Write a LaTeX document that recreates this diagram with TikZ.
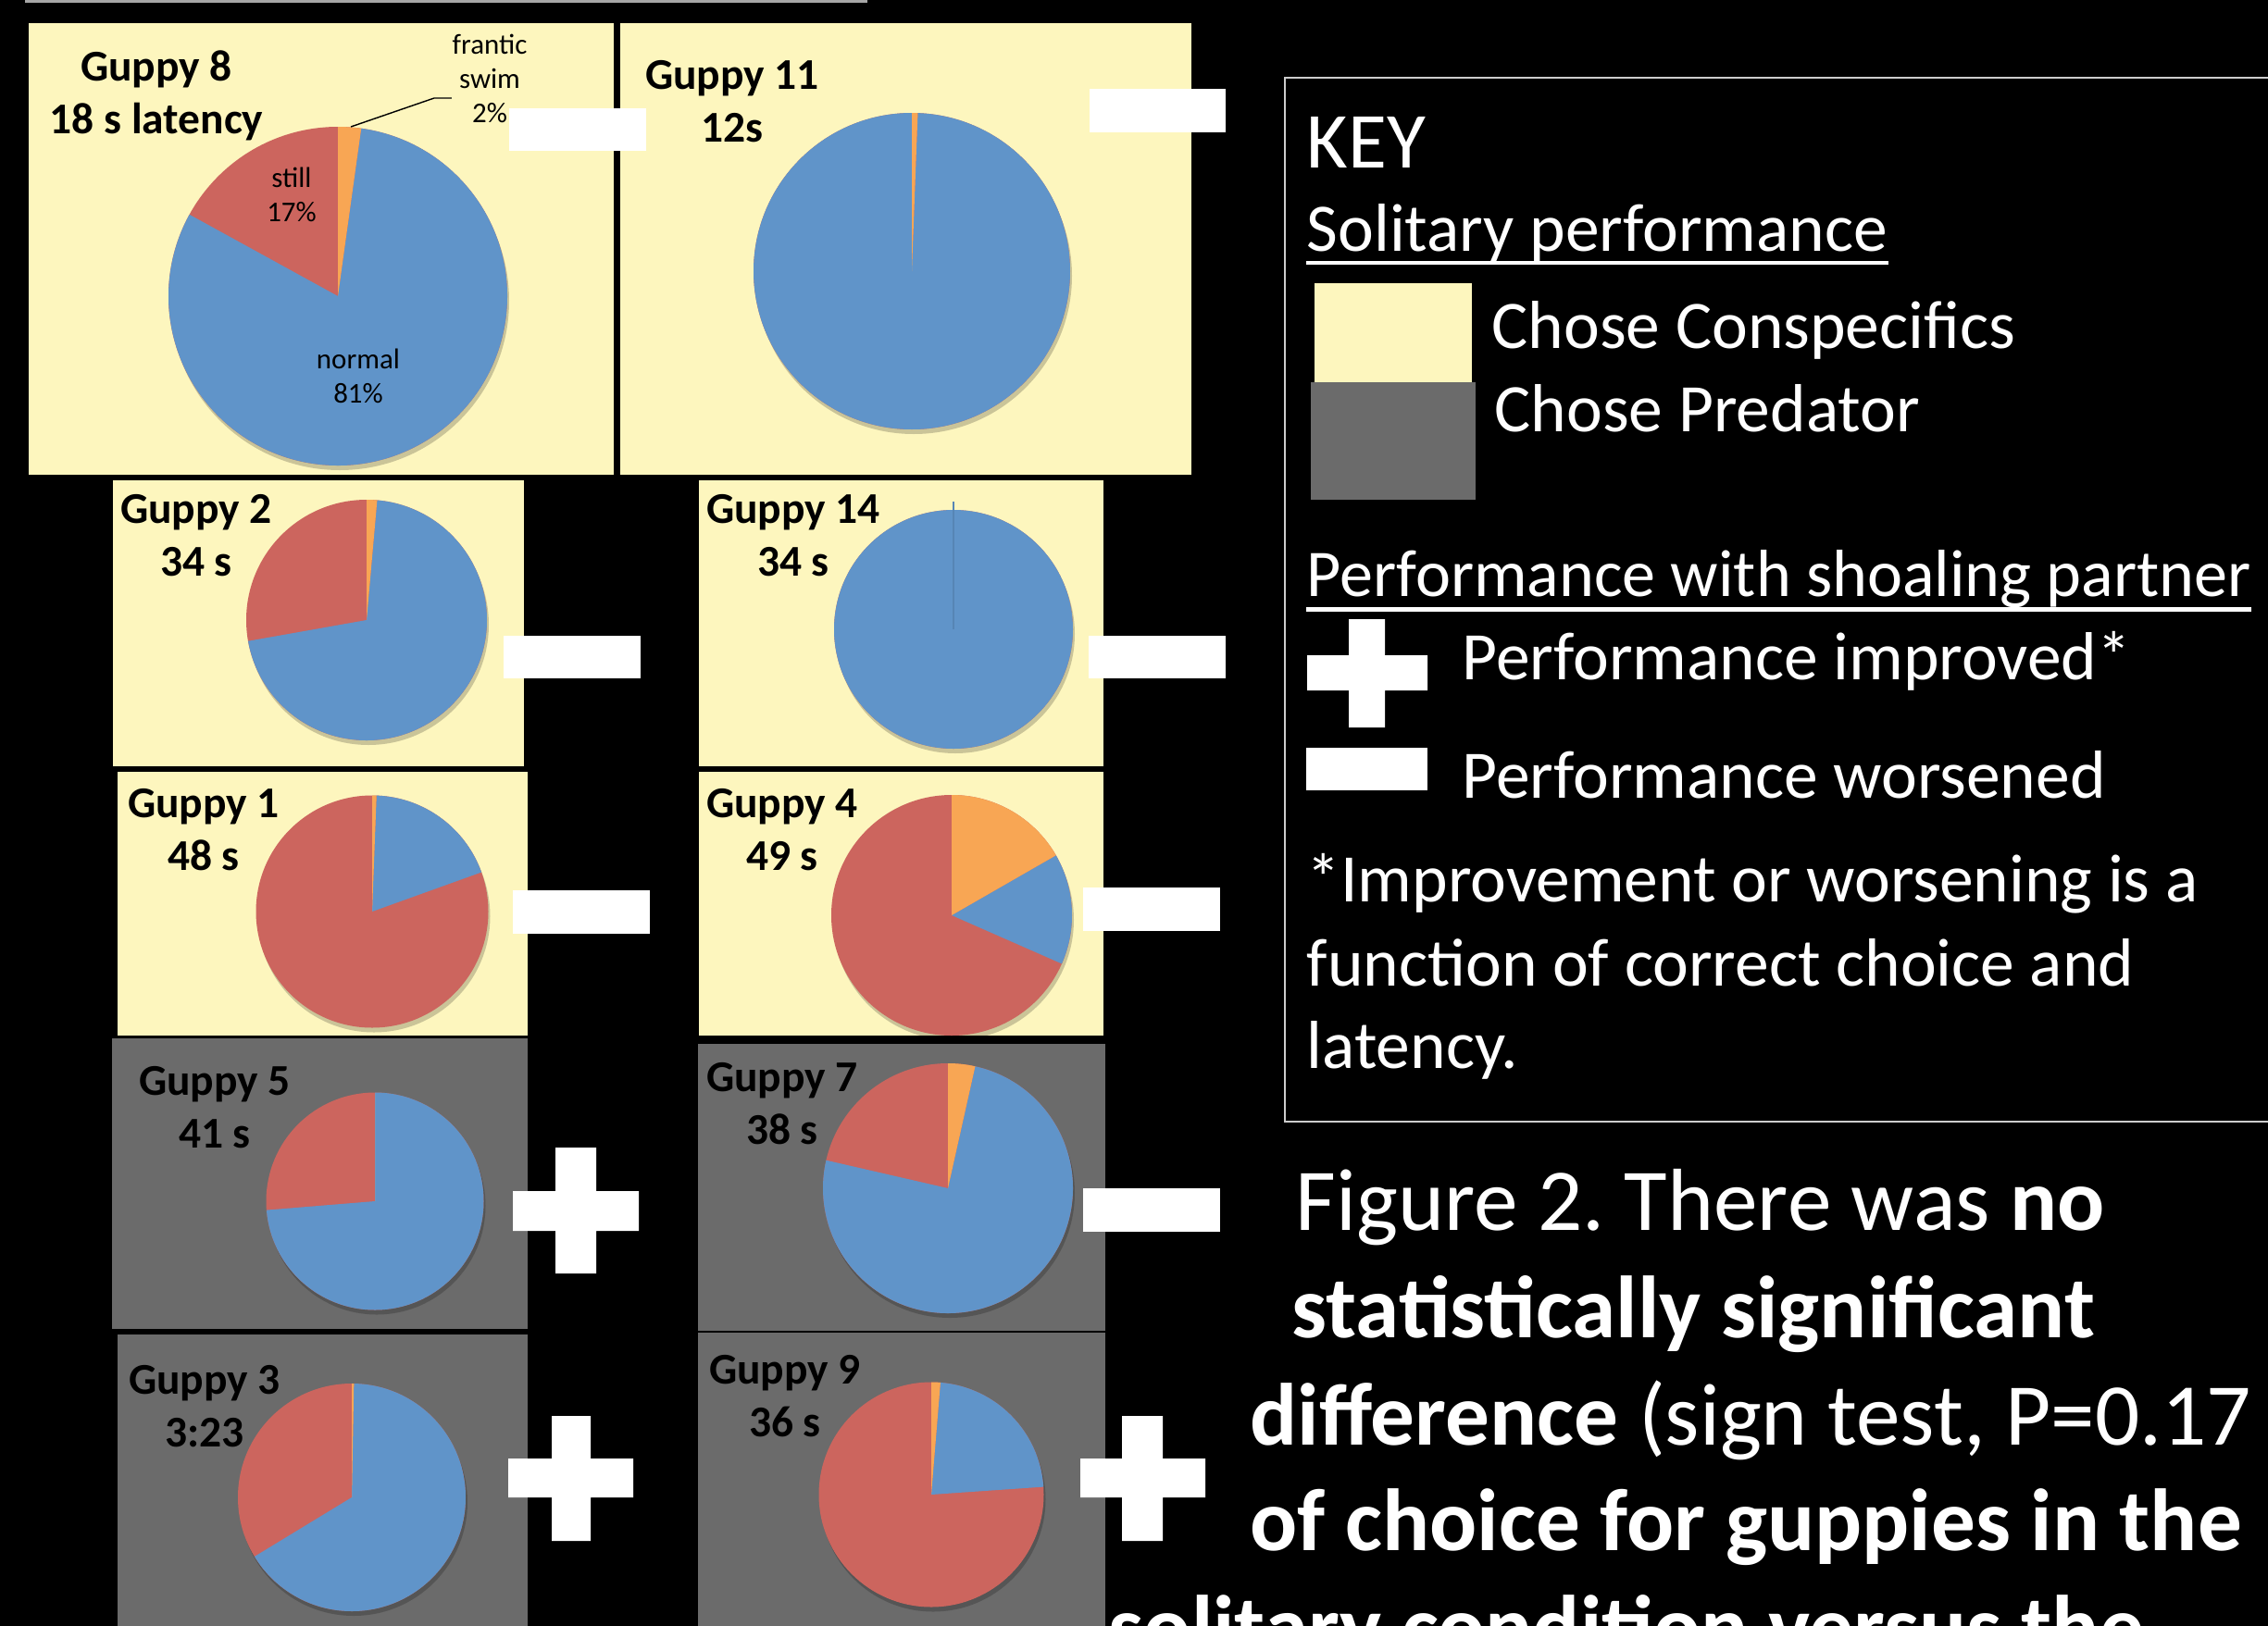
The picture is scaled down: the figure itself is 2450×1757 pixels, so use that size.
\documentclass[tikz,border=0pt]{standalone}
\usepackage{fontspec}
\setmainfont{Carlito}
\frenchspacing
\usetikzlibrary{positioning,calc}
\definecolor{conspec}{RGB}{253,246,190}
\definecolor{predator}{RGB}{107,107,107}
\definecolor{normalblue}{RGB}{96,148,201}
\definecolor{stillred}{RGB}{204,101,94}
\definecolor{franticorange}{RGB}{248,166,84}
\tikzstyle{guppy}=[font=\fontsize{13.5}{16}\selectfont\bfseries, align=center, anchor=base, inner sep=0pt]
\tikzstyle{slice}=[font=\fontsize{8.8}{10.5}\selectfont, align=center, anchor=base, inner sep=0pt]
\tikzstyle{keytext}=[text=white, font=\fontsize{20.9}{25}\selectfont, anchor=base west, inner sep=0pt]
\tikzstyle{figtext}=[text=white, font=\fontsize{27.1}{32}\selectfont, anchor=base west, inner sep=0pt]
\tikzstyle{worse}=[fill=white]
\tikzstyle{pieshadow}=[fill=black, opacity=.2]
\newcommand{\guppypie}[5]{% x, y, radius, frantic %, normal %
  \begin{scope}[shift={(#1,#2)}]
    \fill[pieshadow] (2,5) circle (#3);
    \fill[stillred] (0,0) circle (#3);
    \fill[normalblue] (0,0) -- ({-90+3.6*#4}:#3) arc[start angle={-90+3.6*#4}, delta angle={3.6*#5}, radius=#3] -- cycle;
    \fill[franticorange] (0,0) -- (-90:#3) arc[start angle=-90, delta angle={3.6*#4}, radius=#3] -- cycle;
  \end{scope}}

\begin{document}
\begin{tikzpicture}[x=0.01cm, y=-0.01cm]
        \useasboundingbox (0,0) rectangle (2450,1757);
        \clip (0,0) rectangle (2450,1757);
        \fill[black] (0,0) rectangle (2450,1757);
        \draw[gray!70, line width=0.6pt] (27,1.5) -- (937,1.5);

        % Chose conspecifics
        \fill[conspec] (31,25) rectangle (663,513);
        \fill[conspec] (670,25) rectangle (1287,513);
        \fill[conspec] (122,519) rectangle (566,828);
        \fill[conspec] (755,519) rectangle (1192,828);
        \fill[conspec] (127,834) rectangle (570,1119);
        \fill[conspec] (755,834) rectangle (1192,1119);

        % Chose predator
        \fill[predator] (121,1122) rectangle (570,1436);
        \fill[predator] (754,1128) rectangle (1194,1438);
        \fill[predator] (127,1442) rectangle (570,1757);
        \fill[predator] (754,1440) rectangle (1194,1757);

        % Pies
        \guppypie{365}{320}{183}{2.2}{80.8}
        \guppypie{985}{293}{171}{0.6}{99.4}
        \guppypie{396}{670}{130}{1.4}{70.8}
        \guppypie{1030}{680}{129}{0}{100}
        \guppypie{402}{985}{125.5}{0.6}{18.9}
        \guppypie{1028}{989}{130}{16.7}{14.9}
        \guppypie{405}{1298}{117.5}{0}{73.7}
        \guppypie{1024}{1284}{135}{3.5}{75.1}
        \guppypie{380}{1618}{123}{0.3}{66}
        \guppypie{1006}{1615}{121.5}{1.3}{22.6}
        \draw[normalblue!90!black, line width=0.4pt] (1030,680) -- (1030,542);

        % Titles
        \node (g8) [guppy] at (169,144) {Guppy 8\\18 s latency};
        \node (g11) [guppy] at (791,153) {Guppy 11\\12s};
        \node (g2) [guppy] at (212,622) {Guppy 2\\34 s};
        \node (g14) [guppy] at (857,622) {Guppy 14\\34 s};
        \node (g1) [guppy] at (220,940) {Guppy 1\\48 s};
        \node (g4) [guppy] at (845,940) {Guppy 4\\49 s};
        \node (g5) [guppy] at (232,1240) {Guppy 5\\41 s};
        \node (g7) [guppy] at (845,1236) {Guppy 7\\38 s};
        \node (g3) [guppy] at (221,1563) {Guppy 3\\3:23};
        \node (g9) [guppy] at (848,1552) {Guppy 9\\36 s};

        % Guppy 8 slices
        \node (frantic) [slice] at (529,132) {frantic\\swim\\2\%};
        \node (still) [slice] at (315,239) {still\\17\%};
        \node (normal) [slice] at (387,435) {normal\\81\%};
        \coordinate (g8knee) at (469,106);
        \coordinate (g8tip) at (379,137);
        \draw[line width=0.4pt] (frantic.west |- g8knee) -- (g8knee) -- (g8tip);

        % Performance with partner
        \fill[worse] (550,117) rectangle (698,163);
        \fill[worse] (1177,96) rectangle (1324,143);
        \fill[worse] (544,687) rectangle (692,733);
        \fill[worse] (1176,687) rectangle (1324,733);
        \fill[worse] (554,962) rectangle (702,1009);
        \fill[worse] (1170,959) rectangle (1318,1006);
        \fill[worse] (1170,1284) rectangle (1318,1331);
        \fill[worse] (600,1240) rectangle (644,1376) (554,1287) rectangle (690,1330);
        \fill[worse] (596,1530) rectangle (638,1665) (549,1576) rectangle (684,1618);
        \fill[worse] (1212,1530) rectangle (1256,1665) (1167,1576) rectangle (1302,1618);

        % Key
        \draw[gray!40, line width=0.7pt] (2470,84) -- (1388,84) -- (1388,1212) -- (2470,1212);
        \node (key) [keytext, font=\fontsize{24.4}{29}\selectfont] at (1411,181) {KEY};
        \node (solitary) [keytext] at (1411,271) {Solitary performance};
        \draw[white, line width=1.4pt] ([yshift=-3.7pt]solitary.base west) -- ([yshift=-3.7pt]solitary.base east);
        \fill[conspec] (1420,306) rectangle (1590,413);
        \fill[predator] (1416,413) rectangle (1594,540);
        \node (conspecifics) [keytext] at (1611,376) {Chose Conspecifics};
        \node (predators) [keytext] at (1614,466) {Chose Predator};
        \node (shoaling) [keytext, font=\fontsize{20.5}{25}\selectfont] at (1411,644) {Performance with shoaling partner};
        \draw[white, line width=1.4pt] ([yshift=-4pt]shoaling.base west) -- ([yshift=-4pt]shoaling.base east);
        \fill[worse] (1457,669) rectangle (1496,786) (1412,708) rectangle (1542,746);
        \node (improved) [keytext] at (1579,734) {Performance improved*};
        \fill[worse] (1411,808) rectangle (1542,854);
        \node (worsened) [keytext] at (1579,862) {Performance worsened};
        \node (note1) [keytext] at (1411,974) {*Improvement or worsening is a};
        \node (note2) [keytext] at (1411,1065) {function of correct choice and};
        \node (note3) [keytext] at (1411,1154) {latency.};

        % Figure caption
        \node (fig1) [figtext] at (1399,1329) {Figure 2. There was \textbf{no}};
        \node (fig2) [figtext] at (1395,1445) {\textbf{statistically significant}};
        \node (fig3) [figtext] at (1350,1561) {\textbf{difference} (sign test, P=0.17};
        \node (fig4) [figtext] at (1350,1675) {\textbf{of choice for guppies in the}};
        \node (fig5) [figtext] at (1197,1790) {\textbf{solitary condition versus the}};
\end{tikzpicture}
\end{document}
